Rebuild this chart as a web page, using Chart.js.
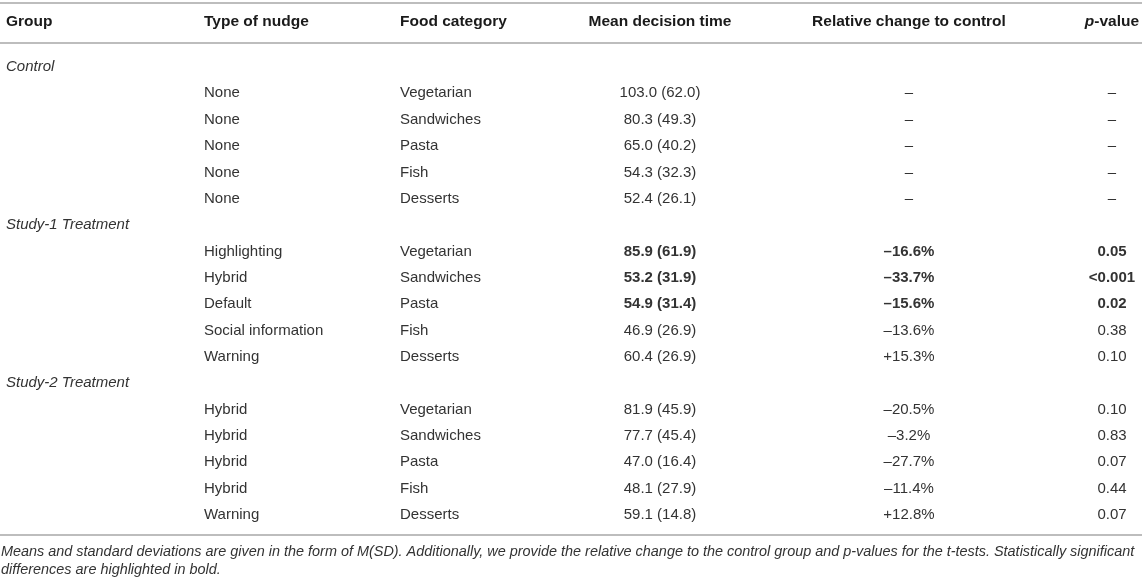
<!DOCTYPE html>
<html>
<head>
<meta charset="utf-8">
<script src="https://cdn.jsdelivr.net/npm/chart.js@4"></script>
<style>
  html, body { margin: 0; padding: 0; background: #fff; }
  #wrap { width: 1142px; height: 584px; position: relative; }
</style>
</head>
<body>
<div id="wrap"><canvas id="tbl"></canvas></div>
<script>
// table content
const columnHeaders = ["Group", "Type of nudge", "Food category", "Mean decision time", "Relative change to control", "p-value"];
const groups = ["Control", "Study-1 Treatment", "Study-2 Treatment"];
const foods = ["Vegetarian", "Sandwiches", "Pasta", "Fish", "Desserts"];
const nudges = [
  ["None", "None", "None", "None", "None"],
  ["Highlighting", "Hybrid", "Default", "Social information", "Warning"],
  ["Hybrid", "Hybrid", "Hybrid", "Hybrid", "Warning"]
];
const meanTimes = [
  [103.0, 80.3, 65.0, 54.3, 52.4],
  [85.9, 53.2, 54.9, 46.9, 60.4],
  [81.9, 77.7, 47.0, 48.1, 59.1]
];
const sdTimes = [
  [62.0, 49.3, 40.2, 32.3, 26.1],
  [61.9, 31.9, 31.4, 26.9, 26.9],
  [45.9, 45.4, 16.4, 27.9, 14.8]
];
const relChange = [
  [null, null, null, null, null],
  [-16.6, -33.7, -15.6, -13.6, 15.3],
  [-20.5, -3.2, -27.7, -11.4, 12.8]
];
const pValues = [
  [null, null, null, null, null],
  ["0.05", "<0.001", "0.02", "0.38", "0.10"],
  ["0.10", "0.83", "0.07", "0.44", "0.07"]
];
const footnote = [
  "Means and standard deviations are given in the form of M(SD). Additionally, we provide the relative change to the control group and p-values for the t-tests. Statistically significant",
  "differences are highlighted in bold."
];

// layout (row units on the y scale, pixels on the x scale)
const colX = [6, 204, 400, 660, 909, 1112];
const colAlign = ["left", "left", "left", "center", "center", "center"];
const headerRow = -1.71;
const rules = [-2.43, -0.91, 17.76];
const footRows = [18.41, 19.1];
const FONT = "'Liberation Sans', Arial, Helvetica, sans-serif";
const HEAD_PX = 15.5;
const BODY_PX = 15;

const dash = "\u2013";
const fmtRel = v => v == null ? dash : (v < 0 ? dash + Math.abs(v).toFixed(1) : "+" + v.toFixed(1)) + "%";
const pNum = s => s == null ? 1 : parseFloat(s.replace("<", ""));

// one scatter dataset per column; each point is a cell
const cols = columnHeaders.map(() => ({ pts: [], txt: [], bold: [], italic: [] }));
function addCell(c, row, text, bold, italic) {
  cols[c].pts.push({ x: colX[c], y: row });
  cols[c].txt.push(text);
  cols[c].bold.push(bold);
  cols[c].italic.push(italic);
}
columnHeaders.forEach((h, c) => addCell(c, headerRow, h, true, false));
let row = 0;
groups.forEach((g, gi) => {
  addCell(0, row, g, false, true);
  row++;
  foods.forEach((f, i) => {
    const sig = pNum(pValues[gi][i]) <= 0.05;
    addCell(1, row, nudges[gi][i], false, false);
    addCell(2, row, f, false, false);
    addCell(3, row, meanTimes[gi][i].toFixed(1) + " (" + sdTimes[gi][i].toFixed(1) + ")", sig, false);
    addCell(4, row, fmtRel(relChange[gi][i]), sig, false);
    addCell(5, row, pValues[gi][i] == null ? dash : pValues[gi][i], sig, false);
    row++;
  });
});

const tablePlugin = {
  id: "tableText",
  afterDatasetsDraw(chart) {
    const ctx = chart.ctx;
    const ys = chart.scales.y;
    const area = chart.chartArea;
    ctx.save();
    // horizontal rules
    ctx.strokeStyle = "#bdbdbd";
    ctx.lineWidth = 2;
    rules.forEach(r => {
      const y = Math.round(ys.getPixelForValue(r));
      ctx.beginPath();
      ctx.moveTo(area.left, y);
      ctx.lineTo(area.right, y);
      ctx.stroke();
    });
    // cells
    ctx.textBaseline = "middle";
    chart.data.datasets.forEach((ds, di) => {
      const meta = chart.getDatasetMeta(di);
      meta.data.forEach((el, i) => {
        const isHead = ds.data[i].y === headerRow;
        const text = ds.cellText[i];
        ctx.textAlign = ds.align;
        ctx.fillStyle = isHead ? "#1a1a1a" : "#333";
        if (isHead && text === "p-value") {
          // italic p in the header
          const rest = "-value";
          ctx.font = "italic bold " + HEAD_PX + "px " + FONT;
          const wp = ctx.measureText("p").width;
          ctx.font = "bold " + HEAD_PX + "px " + FONT;
          const wr = ctx.measureText(rest).width;
          const x0 = el.x - (wp + wr) / 2;
          ctx.textAlign = "left";
          ctx.font = "italic bold " + HEAD_PX + "px " + FONT;
          ctx.fillText("p", x0, el.y);
          ctx.font = "bold " + HEAD_PX + "px " + FONT;
          ctx.fillText(rest, x0 + wp, el.y);
          return;
        }
        const weight = ds.cellBold[i] ? "bold " : "";
        const style = ds.cellItalic[i] ? "italic " : "";
        ctx.font = style + weight + (isHead ? HEAD_PX : BODY_PX) + "px " + FONT;
        ctx.fillText(text, el.x, el.y);
      });
    });
    // footnote
    ctx.fillStyle = "#333";
    ctx.textAlign = "left";
    ctx.font = "italic 13px " + FONT;
    const w = ctx.measureText(footnote[0]).width;
    const size = Math.max(12, Math.min(14.5, 13 * 1134 / w));
    ctx.font = "italic " + size.toFixed(2) + "px " + FONT;
    footnote.forEach((t, i) => ctx.fillText(t, area.left + 1, ys.getPixelForValue(footRows[i])));
    ctx.restore();
  }
};

new Chart(document.getElementById("tbl"), {
  type: "scatter",
  data: {
    datasets: cols.map((c, i) => ({
      label: columnHeaders[i],
      data: c.pts,
      cellText: c.txt,
      cellBold: c.bold,
      cellItalic: c.italic,
      align: colAlign[i],
      pointRadius: 0,
      pointHoverRadius: 0
    }))
  },
  options: {
    responsive: true,
    maintainAspectRatio: false,
    animation: false,
    events: [],
    layout: { padding: 0 },
    plugins: { legend: { display: false }, tooltip: { enabled: false } },
    scales: {
      x: { type: "linear", display: false, min: 0, max: 1142 },
      y: { type: "linear", display: false, reverse: true, min: -2.5427, max: 19.62 }
    }
  },
  plugins: [tablePlugin]
});
</script>
</body>
</html>
